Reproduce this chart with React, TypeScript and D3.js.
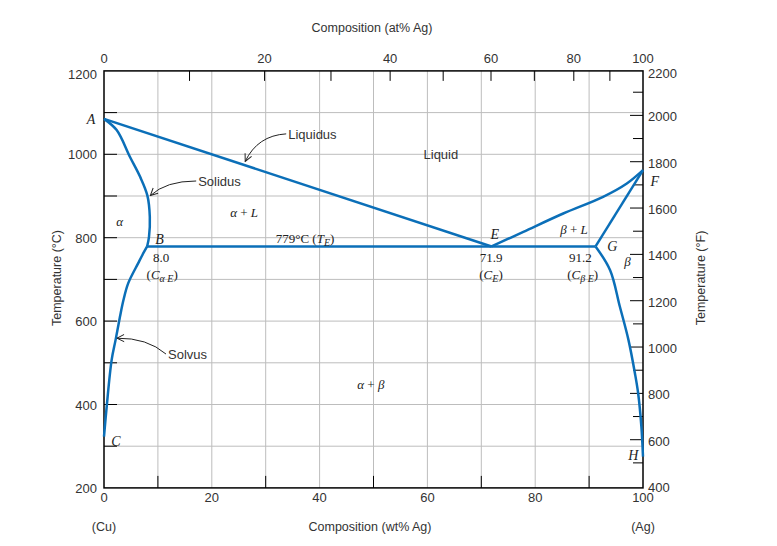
import React from 'react';
import * as d3 from 'd3';

// phase boundaries, [wt% Ag, °C]
const liquidusLeft: [number, number][] = [[0, 1085], [71.9, 779]];
const liquidusRight: [number, number][] = [[71.9, 779], [77.8, 814], [85.2, 858], [92.6, 898], [97.0, 930], [100, 962]];
const solidusLeft: [number, number][] = [[0, 1085], [2.35, 1058], [4.8, 994], [6.7, 946], [8.05, 901], [8.5, 850], [8.35, 802], [8.0, 779]];
const solidusRight: [number, number][] = [[100, 962], [91.2, 779]];
const solvusLeft: [number, number][] = [[8.0, 779], [7.1, 758], [6.35, 739], [4.5, 691], [3.6, 650], [2.97, 611], [2.15, 555], [1.42, 507], [0.5, 395], [0, 323]];
const solvusRight: [number, number][] = [[91.2, 779], [93.9, 722], [95.7, 635], [97.3, 555], [98.5, 475], [99.1, 427], [99.7, 347], [100, 275]];
const eutectic: [number, number][] = [[8.0, 779], [91.2, 779]];

const wtTicks = [0, 20, 40, 60, 80, 100];
const wtMinor = [10, 30, 50, 70, 90];
const wtGrid = [10, 20, 30, 40, 50, 60, 70, 80, 90];
const tempTicks = [200, 400, 600, 800, 1000, 1200];
const tempGrid = [300, 400, 500, 600, 700, 800, 900, 1000, 1100];
const atTicks = [0, 20, 40, 60, 80, 100];
const atMinor = [10, 30, 50, 70, 90];
const fTicks = [400, 600, 800, 1000, 1200, 1400, 1600, 1800, 2000, 2200];
const fMinor = [500, 700, 900, 1100, 1300, 1500, 1700, 1900, 2100];

// point labels, [wt%, °C]
const pointLabels = [
  { t: 'A', p: [-1.6, 1085], anchor: 'end' },
  { t: 'B', p: [10.3, 796], anchor: 'middle' },
  { t: 'C', p: [2.2, 313], anchor: 'middle' },
  { t: 'E', p: [72.5, 808], anchor: 'middle' },
  { t: 'F', p: [102.2, 937], anchor: 'middle' },
  { t: 'G', p: [94.3, 780], anchor: 'middle' },
  { t: 'H', p: [98.2, 278], anchor: 'middle' },
];

const arrows = [
  { t: 'Liquidus', from: [33.8, 1049], to: [26.2, 983], ctrl: [28.5, 1045] },
  { t: 'Solidus', from: [17.1, 936], to: [8.6, 901], ctrl: [11.5, 936] },
  { t: 'Solvus', from: [11.5, 521], to: [2.4, 559], ctrl: [8, 560] },
];

const atToWt = (a: number) => (a * 107.87) / (a * 107.87 + (100 - a) * 63.55) * 100;
const fToC = (f: number) => (f - 32) * 5 / 9;

export default function App() {
  const W = 777, H = 546;
  const x = d3.scaleLinear().domain([0, 100]).range([104, 643]);
  const y = d3.scaleLinear().domain([200, 1200]).range([487.9, 70.9]);
  const line = d3.line<[number, number]>().x(d => x(d[0])).y(d => y(d[1]));
  const smooth = d3.line<[number, number]>().x(d => x(d[0])).y(d => y(d[1])).curve(d3.curveCatmullRom.alpha(0.5));

  const blue = '#0b6fb8';
  const grid = '#bdbdbd';
  const sans = '"Liberation Sans", Arial, sans-serif';
  const serif = '"Liberation Serif", "DejaVu Serif", serif';
  const x0 = x(0), x1 = x(100), yTop = y(1200), yBot = y(200);

  return (
    <svg width={W} height={H} style={{ position: 'absolute', left: 0, top: 0, background: '#fff' }}>
      <defs>
        <marker id="arr" viewBox="0 0 10 10" refX="9" refY="5" markerWidth="9" markerHeight="9" orient="auto-start-reverse" markerUnits="userSpaceOnUse">
          <path d="M1,1 L9,5 L1,9" fill="none" stroke="#222" strokeWidth={1.1} />
        </marker>
      </defs>

      {/* grid */}
      {wtGrid.map(v => <line key={'gx' + v} x1={x(v)} x2={x(v)} y1={yTop} y2={yBot} stroke={grid} strokeWidth={1} />)}
      {tempGrid.map(v => <line key={'gy' + v} x1={x0} x2={x1} y1={y(v)} y2={y(v)} stroke={grid} strokeWidth={1} />)}

      {/* ticks */}
      {wtMinor.map(v => <line key={'bt' + v} x1={x(v)} x2={x(v)} y1={yBot} y2={yBot - 12} stroke="#000" />)}
      {atMinor.map(v => <line key={'tt' + v} x1={x(atToWt(v))} x2={x(atToWt(v))} y1={yTop} y2={yTop + 10} stroke="#000" />)}
      {atTicks.slice(1, -1).map(v => <line key={'tm' + v} x1={x(atToWt(v))} x2={x(atToWt(v))} y1={yTop} y2={yTop + 10} stroke="#000" />)}
      {tempGrid.map(v => <line key={'lt' + v} x1={x0} x2={x0 + 13} y1={y(v)} y2={y(v)} stroke="#000" />)}
      {fTicks.slice(1, -1).map(v => <line key={'rt' + v} x1={x1} x2={x1 - 13} y1={y(fToC(v))} y2={y(fToC(v))} stroke="#000" />)}
      {fMinor.map(v => <line key={'rm' + v} x1={x1} x2={x1 - 10} y1={y(fToC(v))} y2={y(fToC(v))} stroke="#000" />)}

      {/* frame */}
      <rect x={x0} y={yTop} width={x1 - x0} height={yBot - yTop} fill="none" stroke="#000" strokeWidth={1.5} />

      {/* tick labels */}
      <g fontFamily={sans} fontSize={13} fill="#333">
        {wtTicks.map(v => <text key={'bl' + v} x={x(v)} y={yBot + 14} textAnchor="middle">{v}</text>)}
        {atTicks.map(v => <text key={'tl' + v} x={x(atToWt(v))} y={yTop - 8} textAnchor="middle">{v}</text>)}
        {tempTicks.map(v => <text key={'ll' + v} x={x0 - 7} y={y(v) + 5 + (v === 1200 ? 3 : 0)} textAnchor="end">{v}</text>)}
        {fTicks.map(v => <text key={'rl' + v} x={x1 + 5} y={y(fToC(v)) + 6 + (v === 2200 ? 3 : 0)} textAnchor="start">{v}</text>)}
      </g>

      {/* axis titles */}
      <g fontFamily={sans} fontSize={12.5} fill="#333">
        <text x={372} y={32} textAnchor="middle">Composition (at% Ag)</text>
        <text x={370} y={531} textAnchor="middle">Composition (wt% Ag)</text>
        <text x={x0} y={531} textAnchor="middle">(Cu)</text>
        <text x={x1} y={531} textAnchor="middle">(Ag)</text>
        <text transform={`translate(61,278) rotate(-90)`} textAnchor="middle">Temperature (°C)</text>
        <text transform={`translate(705,278) rotate(-90)`} textAnchor="middle">Temperature (°F)</text>
      </g>

      {/* phase boundaries */}
      <g fill="none" stroke={blue} strokeWidth={2.5} strokeLinejoin="round">
        <path d={line(eutectic)!} />
        <path d={line(liquidusLeft)!} />
        <path d={smooth(liquidusRight)!} />
        <path d={line(solidusRight)!} />
        <path d={smooth(solidusLeft)!} />
        <path d={smooth(solvusLeft)!} />
        <path d={smooth(solvusRight)!} />
      </g>

      {/* annotation arrows */}
      {arrows.map(a => (
        <g key={a.t}>
          <path d={`M${x(a.from[0])},${y(a.from[1])} Q${x(a.ctrl[0])},${y(a.ctrl[1])} ${x(a.to[0])},${y(a.to[1])}`}
            fill="none" stroke="#222" strokeWidth={1} markerEnd="url(#arr)" />
          <text x={x(a.from[0]) + 2} y={y(a.from[1]) + 5} fontFamily={sans} fontSize={13} fill="#333">{a.t}</text>
        </g>
      ))}

      {/* point letters */}
      <g fontFamily={serif} fontStyle="italic" fontSize={14} fill="#222">
        {pointLabels.map(l => <text key={l.t} x={x(l.p[0])} y={y(l.p[1]) + 5} textAnchor={l.anchor as any}>{l.t}</text>)}
      </g>

      {/* region labels */}
      <g fontFamily={serif} fontSize={13} fill="#222">
        <text x={x(2.9)} y={y(840) + 5} textAnchor="middle" fontStyle="italic">α</text>
        <text x={x(26)} y={y(862) + 5} textAnchor="middle"><tspan fontStyle="italic">α</tspan>  + <tspan fontStyle="italic">L</tspan></text>
        <text x={x(87.2)} y={y(820) + 5} textAnchor="middle"><tspan fontStyle="italic">β</tspan> + <tspan fontStyle="italic">L</tspan></text>
        <text x={x(97.1)} y={y(743) + 5} textAnchor="middle" fontStyle="italic">β</text>
        <text x={x(49.5)} y={y(450) + 5} textAnchor="middle"><tspan fontStyle="italic">α</tspan> + <tspan fontStyle="italic">β</tspan></text>
        <text x={x(37.3)} y={y(799) + 5} textAnchor="middle">779°C (<tspan fontStyle="italic">T</tspan><tspan fontStyle="italic" fontSize={10} dy={3}>E</tspan><tspan dy={-3}>)</tspan></text>

        <text x={x(10.6)} y={y(753) + 5} textAnchor="middle">8.0</text>
        <text x={x(10.8)} y={y(714) + 5} textAnchor="middle">(<tspan fontStyle="italic">C</tspan><tspan fontStyle="italic" fontSize={10} dy={3}>α E</tspan><tspan dy={-3}>)</tspan></text>
        <text x={x(71.8)} y={y(753) + 5} textAnchor="middle">71.9</text>
        <text x={x(71.8)} y={y(714) + 5} textAnchor="middle">(<tspan fontStyle="italic">C</tspan><tspan fontStyle="italic" fontSize={10} dy={3}>E</tspan><tspan dy={-3}>)</tspan></text>
        <text x={x(88.4)} y={y(753) + 5} textAnchor="middle">91.2</text>
        <text x={x(88.8)} y={y(714) + 5} textAnchor="middle">(<tspan fontStyle="italic">C</tspan><tspan fontStyle="italic" fontSize={10} dy={3}>β E</tspan><tspan dy={-3}>)</tspan></text>
      </g>
      <text x={x(62.5)} y={y(1000) + 5} textAnchor="middle" fontFamily={sans} fontSize={13} fill="#333">Liquid</text>
    </svg>
  );
}
